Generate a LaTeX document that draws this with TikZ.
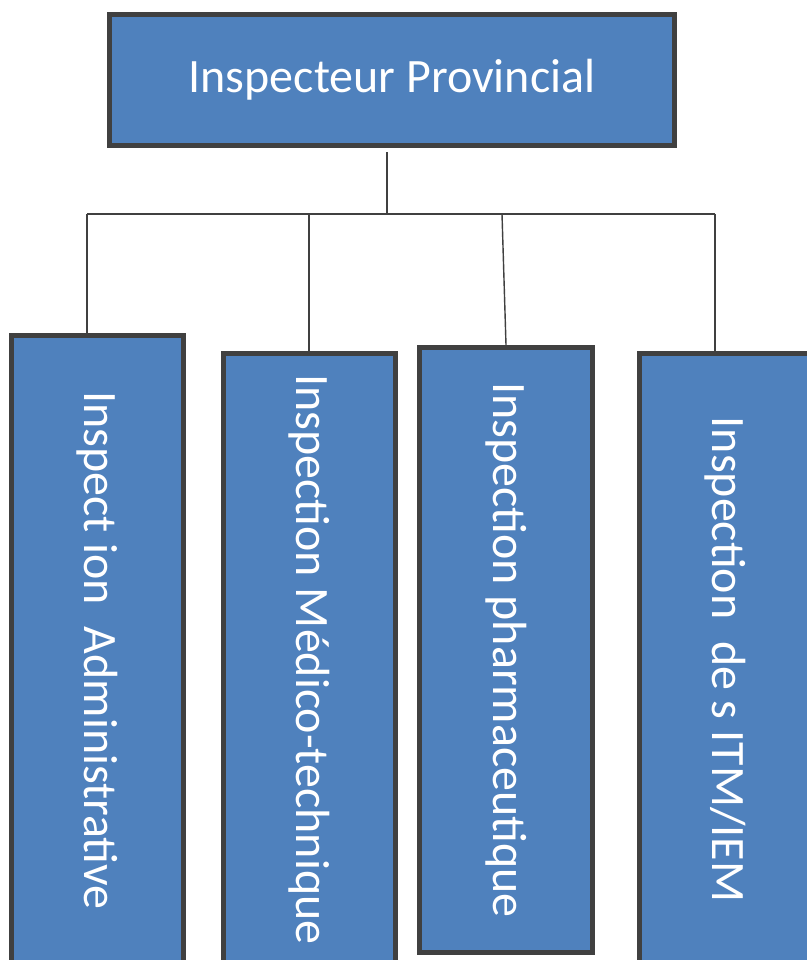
\documentclass[tikz,border=0pt]{standalone}
\usepackage{fontspec}
\setmainfont{Carlito}
\usepackage{tikz}
\usetikzlibrary{calc}
\definecolor{boxblue}{HTML}{4F81BD}
\definecolor{boxedge}{HTML}{404040}
\tikzset{
  orgbox/.style={draw=boxedge, line width=2.85pt, fill=boxblue,
    text=white, inner sep=0pt, align=center,
    font=\fontsize{27.3}{33}\selectfont},
  subbox/.style={orgbox, rotate=-90, minimum height=3.44cm},
  link/.style={draw=boxedge, line width=0.8pt},
}

\begin{document}
\begin{tikzpicture}
  \useasboundingbox (0,0) rectangle (16.14,-19.2);
  \clip (0,0) rectangle (16.14,-19.2);
  \node[orgbox, minimum width=11.3cm, minimum height=2.62cm] (prov)
    at (7.84,-1.6) {Inspecteur Provincial};
  \node[subbox, minimum width=12.6cm] (adm) at (1.95,-13.01)
    {Inspect ion\ \ Administrative};
  \node[subbox, minimum width=12.24cm] (med) at (6.19,-13.19)
    {Inspection Médico-technique};
  \node[subbox, minimum width=12.1cm, minimum height=3.46cm] (pharm) at (10.12,-13.0)
    {Inspection pharmaceutique};
  \node[subbox, minimum width=12.24cm] (itm) at (14.51,-13.19)
    {Inspection\ \ de s ITM/IEM};
  % bus
  \coordinate (bus) at (7.74,-4.28);
  \coordinate (j1) at (1.74,-4.28);
  \coordinate (j2) at (6.18,-4.28);
  \coordinate (j3) at (10.04,-4.28);
  \coordinate (j4) at (14.3,-4.28);
  \draw[link] ($(bus |- prov.south)+(0,-0.08)$) -- (bus);
  \draw[link] (j1) -- (j4);
  \draw[link] (j1) -- (j1 |- adm.west);
  \draw[link] (j2) -- (j2 |- med.west);
  \draw[link] (j3) -- (pharm.west);
  \draw[link] (j4) -- (j4 |- itm.west);
\end{tikzpicture}
\end{document}
